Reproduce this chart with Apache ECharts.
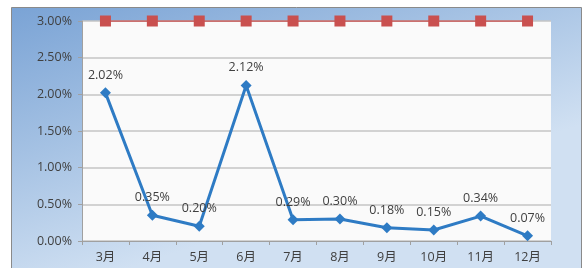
<!DOCTYPE html>
<html>
<head>
<meta charset="utf-8">
<script src="https://cdn.jsdelivr.net/npm/echarts@6/dist/echarts.min.js"></script>
<style>
  html, body { margin: 0; padding: 0; background: #fff; }
  #main { width: 583px; height: 268px; }
</style>
</head>
<body>
<div id="main"></div>
<script>
// 月份与数据
const months = ['3月', '4月', '5月', '6月', '7月', '8月', '9月', '10月', '11月', '12月'];
const rateData = [2.02, 0.35, 0.20, 2.12, 0.29, 0.30, 0.18, 0.15, 0.34, 0.07];
const limitData = [3, 3, 3, 3, 3, 3, 3, 3, 3, 3];

function rateChart () {
  const myChart = echarts.init(document.getElementById('main'));
  const labelFont = 'Open Sans, Noto Sans CJK SC, sans-serif';
  const option = {
    animation: false,
    graphic: [
      {
        type: 'rect',
        z: -10,
        shape: { x: 11.5, y: 7.5, width: 570, height: 270 },
        style: {
          fill: new echarts.graphic.LinearGradient(0, 0, 0.15, 1, [
            { offset: 0, color: '#7aa3d5' },
            { offset: 0.5, color: '#a4c1e3' },
            { offset: 1, color: '#d0e0f2' }
          ]),
          stroke: '#8a8a8a',
          lineWidth: 1
        }
      }
    ],
    grid: {
      left: 82,
      right: 32,
      top: 21,
      bottom: 27,
      show: true,
      backgroundColor: '#fafafa',
      borderWidth: 0
    },
    xAxis: {
      type: 'category',
      data: months,
      boundaryGap: true,
      axisLine: { show: true, lineStyle: { color: '#a0a0a0' } },
      axisTick: { show: true, length: 4, lineStyle: { color: '#a0a0a0' } },
      axisLabel: { color: '#404040', fontSize: 12.5, fontFamily: labelFont, margin: 10 }
    },
    yAxis: {
      type: 'value',
      min: 0,
      max: 3,
      interval: 0.5,
      axisLine: { show: true, lineStyle: { color: '#a0a0a0' } },
      axisTick: { show: true, length: 4, lineStyle: { color: '#a0a0a0' } },
      splitLine: { show: true, lineStyle: { color: '#c4c4c4', width: 1.5 } },
      axisLabel: {
        color: '#404040',
        fontSize: 12.5,
        fontFamily: labelFont,
        margin: 10,
        formatter: function (v) { return v.toFixed(2) + '%'; }
      }
    },
    series: [
      {
        name: '限值',
        type: 'line',
        data: limitData,
        symbol: 'rect',
        symbolSize: 11,
        itemStyle: { color: '#c9504f' },
        lineStyle: { color: '#c9504f', width: 1.5 },
        z: 3
      },
      {
        name: '比率',
        type: 'line',
        data: rateData,
        symbol: 'diamond',
        symbolSize: 11,
        itemStyle: { color: '#2e7bc4' },
        lineStyle: { color: '#2e7bc4', width: 3 },
        label: {
          show: true,
          position: 'top',
          distance: 6,
          color: '#404040',
          fontSize: 12.5,
          fontFamily: labelFont,
          formatter: function (p) { return p.value.toFixed(2) + '%'; }
        },
        z: 4
      }
    ]
  };
  myChart.setOption(option);
  window.addEventListener('resize', function () {
    myChart.resize();
  });
}
rateChart();
</script>
</body>
</html>
